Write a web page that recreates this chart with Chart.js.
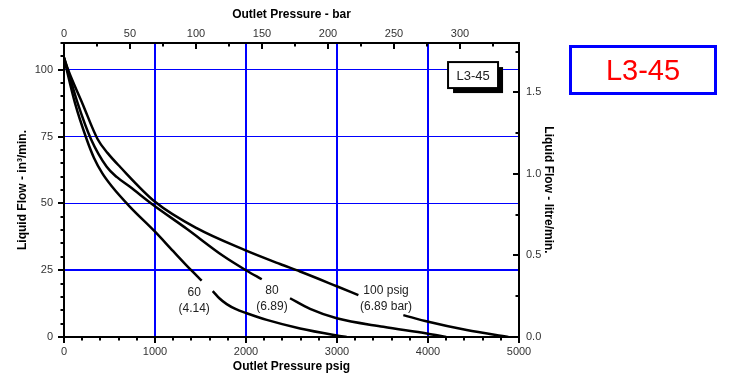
<!DOCTYPE html>
<html>
<head>
<meta charset="utf-8">
<script src="https://cdn.jsdelivr.net/npm/chart.js@4/dist/chart.umd.min.js"></script>
<style>
  html, body { margin: 0; padding: 0; background: #fff; }
  #wrap { position: relative; width: 730px; height: 380px; }
  #tag {
    position: absolute; left: 569px; top: 45px; width: 148px; height: 50px;
    box-sizing: border-box; border: 3px solid #0000ff;
    color: #ff0000; font: 29px "Liberation Sans", Arial, sans-serif;
    text-align: center; line-height: 44px;
  }
</style>
</head>
<body>
<div id="wrap">
  <canvas id="chart" width="730" height="380"></canvas>
  <div id="tag">L3-45</div>
</div>
<script>
// Flow curves (x = outlet pressure psig, y = liquid flow in3/min)
// null marks the break where the curve label sits
const pressure60 = [0, 30, 121, 249, 330, 420, 527, 725, 1000, 1200, 1403, 1513, 1570, 1634, 1710, 1788, 1890, 2008, 2228, 2594, 2997, 3107];
const flow60     = [104.5, 100, 87.5, 74, 67, 61.3, 56.3, 48.7, 39.4, 32.1, 24.8, 21.1, null, 17.2, 14.4, 12.3, 10.4, 8.9, 6.4, 3.2, 0.6, 0];

const pressure80 = [0, 40, 150, 297, 469, 582, 725, 981, 1348, 1751, 2008, 2173, 2330, 2484, 2704, 2997, 3509, 3987, 4200];
const flow80     = [104.5, 100, 87.5, 74, 63.7, 59.8, 56.2, 49.4, 40.5, 30.3, 24.8, 21.6, null, 14.5, 10.5, 7, 3.8, 1.3, 0];

const pressure100 = [0, 45, 201, 370, 480, 615, 1000, 1458, 1989, 2374, 2594, 2997, 3235, 3480, 3729, 4004, 4425, 4883];
const flow100     = [104.5, 100, 87.5, 74, 68.8, 63.7, 50.6, 40.7, 32.5, 27.3, 24.5, 19, 15.7, null, 8.2, 5.7, 2.6, 0];

// curve labels: [lines, pressure, flow]
const curveLabels = [
  [["60", "(4.14)"], 1430, 16.7],
  [["80", "(6.89)"], 2286, 17.3],
  [["100 psig", "(6.89 bar)"], 3539, 17.3]
];

const PSI_PER_BAR = 14.5038;
const LITRE_PER_IN3 = 0.0163871;
const X_MAX = 5000;
const Y_MAX = 110;

Chart.defaults.font.family = '"Liberation Sans", Arial, sans-serif';

function toPoints(xs, ys) {
  return xs.map((x, i) => ({ x: x, y: ys[i] }));
}

function curve(xs, ys) {
  return {
    data: toPoints(xs, ys),
    borderColor: '#000',
    borderWidth: 2.5,
    pointRadius: 0,
    fill: false,
    spanGaps: false,
    cubicInterpolationMode: 'monotone'
  };
}

// minor/major tick marks, outward on bottom/left, inward on top/right
const tickSpecs = [
  { id: 'x', minor: 200, major: 1000, side: 'bottom' },
  { id: 'xBar', minor: 25, major: 50, side: 'top' },
  { id: 'y', minor: 5, major: 25, side: 'left' },
  { id: 'yL', minor: 0.25, major: 0.5, side: 'right' }
];

const tickMarks = {
  id: 'tickMarks',
  afterDraw(chart) {
    const ctx = chart.ctx, a = chart.chartArea;
    ctx.save();
    ctx.strokeStyle = '#000';
    ctx.lineWidth = 2;
    tickSpecs.forEach(t => {
      const s = chart.scales[t.id];
      const n = Math.floor((s.max - s.min) / t.minor + 1e-6);
      for (let i = 0; i <= n; i++) {
        const v = s.min + i * t.minor;
        const major = Math.abs(v / t.major - Math.round(v / t.major)) < 1e-6;
        const len = major ? 6 : 3.5;
        const p = Math.round(s.getPixelForValue(v));
        ctx.beginPath();
        if (t.side === 'bottom') { ctx.moveTo(p, a.bottom); ctx.lineTo(p, a.bottom + len); }
        if (t.side === 'top') { ctx.moveTo(p, a.top); ctx.lineTo(p, a.top + len); }
        if (t.side === 'left') { ctx.moveTo(a.left - len, p); ctx.lineTo(a.left, p); }
        if (t.side === 'right') { ctx.moveTo(a.right - len, p); ctx.lineTo(a.right, p); }
        ctx.stroke();
      }
    });
    ctx.restore();
  }
};

const notes = {
  id: 'notes',
  afterDatasetsDraw(chart) {
    const ctx = chart.ctx;
    const xs = chart.scales.x, ys = chart.scales.y;
    ctx.save();
    ctx.fillStyle = '#222';
    ctx.font = '12px "Liberation Sans", Arial, sans-serif';
    ctx.textAlign = 'center';
    ctx.textBaseline = 'middle';
    curveLabels.forEach(([lines, px, fy]) => {
      const x = xs.getPixelForValue(px);
      const y = ys.getPixelForValue(fy);
      lines.forEach((l, i) => ctx.fillText(l, x, y + i * 16));
    });

    // model tag box with drop shadow
    const cx = xs.getPixelForValue(4495), cy = ys.getPixelForValue(98);
    const w = 50, h = 26;
    ctx.fillStyle = '#000';
    ctx.fillRect(cx - w / 2 + 5, cy - h / 2 + 5, w, h);
    ctx.fillStyle = '#fff';
    ctx.fillRect(cx - w / 2, cy - h / 2, w, h);
    ctx.strokeStyle = '#000';
    ctx.lineWidth = 2;
    ctx.strokeRect(cx - w / 2, cy - h / 2, w, h);
    ctx.fillStyle = '#222';
    ctx.font = '13px "Liberation Sans", Arial, sans-serif';
    ctx.fillText('L3-45', cx, cy + 1);
    ctx.restore();
  }
};

const tickFont = { size: 11 };
const titleFont = { size: 12, weight: 'bold' };
const noColor = 'rgba(0,0,0,0)';

new Chart(document.getElementById('chart'), {
  type: 'line',
  data: {
    datasets: [curve(pressure60, flow60), curve(pressure80, flow80), curve(pressure100, flow100)]
  },
  options: {
    responsive: false,
    animation: false,
    layout: { padding: { left: 10, top: 3, bottom: 3, right: 168 } },
    plugins: { legend: { display: false }, tooltip: { enabled: false } },
    scales: {
      x: {
        type: 'linear', position: 'bottom', min: 0, max: X_MAX,
        afterFit: s => { s.height = 40; },
        ticks: { stepSize: 1000, padding: 8, color: '#333', font: tickFont, maxRotation: 0, callback: v => String(v) },
        grid: {
          drawTicks: false, lineWidth: 2,
          color: c => (c.tick && c.tick.value > 0 && c.tick.value < X_MAX) ? '#0000ff' : noColor
        },
        border: { display: true, color: '#000', width: 2 },
        title: { display: true, text: 'Outlet Pressure psig', color: '#000', font: titleFont, padding: { top: 0, bottom: 3 } }
      },
      xBar: {
        type: 'linear', position: 'top', min: 0, max: X_MAX / PSI_PER_BAR,
        afterFit: s => { s.height = 40; },
        ticks: { stepSize: 50, includeBounds: false, padding: 2, color: '#333', font: tickFont, maxRotation: 0, callback: v => String(v) },
        grid: { drawOnChartArea: false, drawTicks: false },
        border: { display: true, color: '#000', width: 2 },
        title: { display: true, text: 'Outlet Pressure - bar', color: '#000', font: titleFont, padding: { top: 4, bottom: 0 } }
      },
      y: {
        type: 'linear', position: 'left', min: 0, max: Y_MAX,
        afterFit: s => { s.width = 54; },
        ticks: { stepSize: 25, includeBounds: false, padding: 11, color: '#333', font: tickFont },
        grid: {
          drawTicks: false,
          color: c => (c.tick && c.tick.value > 0) ? '#0000ff' : noColor,
          lineWidth: c => (c.tick && c.tick.value === 25) ? 2 : 1
        },
        border: { display: true, color: '#000', width: 2 },
        title: { display: true, text: 'Liquid Flow - in³/min.', color: '#000', font: titleFont, padding: { top: 5, bottom: 0 } }
      },
      yL: {
        type: 'linear', position: 'right', min: 0, max: Y_MAX * LITRE_PER_IN3,
        afterFit: s => { s.width = 43; },
        ticks: { stepSize: 0.5, includeBounds: false, padding: 7, color: '#333', font: tickFont, callback: v => v.toFixed(1) },
        grid: { drawOnChartArea: false, drawTicks: false },
        border: { display: true, color: '#000', width: 2 },
        title: { display: true, text: 'Liquid Flow - litre/min.', color: '#000', font: titleFont, padding: { top: 6, bottom: 0 } }
      }
    }
  },
  plugins: [tickMarks, notes]
});
</script>
</body>
</html>
